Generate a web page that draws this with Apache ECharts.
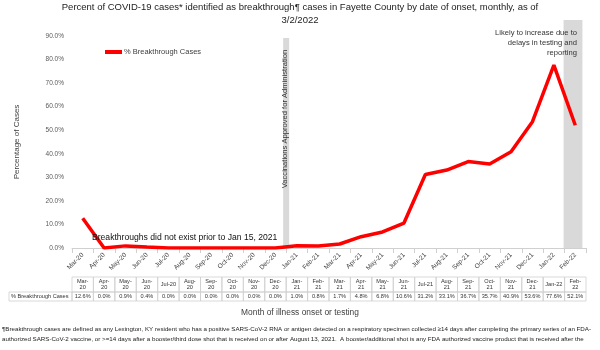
<!DOCTYPE html>
<html><head><meta charset="utf-8">
<script src="https://cdn.jsdelivr.net/npm/echarts@6/dist/echarts.min.js"></script>
<style>html,body{margin:0;padding:0;background:#fff}#c{width:600px;height:350px}</style>
</head><body><div id="c"></div>
<script>
const categories = ['Mar-20','Apr-20','May-20','Jun-20','Jul-20','Aug-20','Sep-20','Oct-20','Nov-20','Dec-20','Jan-21','Feb-21','Mar-21','Apr-21','May-21','Jun-21','Jul-21','Aug-21','Sep-21','Oct-21','Nov-21','Dec-21','Jan-22','Feb-22'];
const breakthrough = [12.6,0.0,0.9,0.4,0.0,0.0,0.0,0.0,0.0,0.0,1.0,0.8,1.7,4.8,6.8,10.6,31.2,33.1,36.7,35.7,40.9,53.6,77.6,52.1];
const yTicks = [0,10,20,30,40,50,60,70,80,90];
const seriesName = '% Breakthrough Cases';
const titleLines = ['Percent of COVID-19 cases* identified as breakthrough¶ cases in Fayette County by date of onset, monthly, as of','3/2/2022'];
const footnote = ['¶Breakthrough cases are defined as any Lexington, KY resident who has a positive SARS-CoV-2 RNA or antigen detected on a respiratory specimen collected ≥14 days after completing the primary series of an FDA-',
'authorized SARS-CoV-2 vaccine, or >=14 days after a booster/third dose shot that is received on or after August 13, 2021.  A booster/additional shot is any FDA authorized vaccine product that is received after the'];

const FONT = 'Liberation Sans';
const chart = echarts.init(document.getElementById('c'), null, {renderer:'canvas'});
const grid = {left:72, right:14, top:36, bottom:102};
chart.setOption({
  animation:false,
  textStyle:{fontFamily:FONT},
  grid: grid,
  legend:{show:true, left:100, top:43, itemWidth:17, itemHeight:4, itemGap:2, icon:'rect',
    textStyle:{fontSize:7.5, color:'#404040', fontFamily:FONT, padding:[0,0,0,-3]}, data:[{name:seriesName, icon:'rect'}]},
  xAxis:{type:'category', data:categories, boundaryGap:true,
    axisLine:{lineStyle:{color:'#d0d0d0'}}, axisTick:{show:true, length:5, lineStyle:{color:'#d0d0d0'}},
    axisLabel:{rotate:45, fontSize:6.5, color:'#404040', margin:6, interval:0}},
  yAxis:{type:'value', min:0, max:90, interval:10, splitLine:{show:false},
    axisLine:{show:false}, axisTick:{show:false},
    axisLabel:{fontSize:6.5, color:'#595959', margin:8, formatter:v=>v.toFixed(1)+'%'}},
  series:[{name:seriesName, type:'line', data:breakthrough, symbol:'none', smooth:false,
    lineStyle:{color:'#ff0000', width:3.5}, itemStyle:{color:'#ff0000'}, z:5}]
});

function px(i){ return chart.convertToPixel({xAxisIndex:0}, categories[i]); }
function py(v){ return chart.convertToPixel({yAxisIndex:0}, v); }
const step = px(1)-px(0);
const g = [];
// title
titleLines.forEach((t,k)=>g.push({type:'text', left:'center', top:2+k*13, style:{text:t, fontSize:9.5, fill:'#222', fontFamily:FONT}}));
// y axis title
g.push({type:'text', x:17, y:(py(0)+py(90))/2, rotation:Math.PI/2, style:{text:'Percentage of Cases', fontSize:8, fill:'#404040', fontFamily:FONT, align:'center', verticalAlign:'middle'}});
// vaccination band between Dec-20 and Jan-21
const vb = (px(9)+px(10))/2;
g.push({type:'rect', shape:{x:vb-3, y:py(89.2), width:6, height:py(0)-py(89.2)}, style:{fill:'#d9d9d9'}, z:1});
g.push({type:'text', x:vb-1, y:119, rotation:Math.PI/2, style:{text:'Vaccinations Approved for Administration', fontSize:7.6, fill:'#333', fontFamily:FONT, align:'center', verticalAlign:'middle'}, z:3});
// reporting delay band
const rb = (px(22)+px(23))/2;
g.push({type:'rect', shape:{x:rb-1, y:20, width:step*0.88, height:py(0)-20}, style:{fill:'#d9d9d9'}, z:1});
['Likely to increase due to','delays in testing and','reporting'].forEach((t,k)=>g.push({type:'text', x:577, y:33+k*10, style:{text:t, fontSize:7.6, fill:'#333', fontFamily:FONT, align:'right', verticalAlign:'middle'}, z:3}));
// annotation
g.push({type:'text', x:92, y:238, style:{text:'Breakthroughs did not exist prior to Jan 15, 2021', fontSize:8.6, fill:'#111', fontFamily:FONT, verticalAlign:'middle'}, z:6});
// data table
const tTop=277, tMid=292, tBot=301, lblLeft=9;
const left0 = px(0)-step/2;
g.push({type:'rect', shape:{x:lblLeft, y:tMid, width:left0-lblLeft, height:tBot-tMid}, style:{fill:'none', stroke:'#cfcfcf', lineWidth:0.8}});
g.push({type:'text', x:lblLeft+2, y:(tMid+tBot)/2, style:{text:seriesName, fontSize:5.6, fill:'#333', fontFamily:FONT, verticalAlign:'middle'}});
categories.forEach((c,i)=>{
  const cx = px(i), x0 = cx-step/2;
  g.push({type:'rect', shape:{x:x0, y:tTop, width:step, height:tMid-tTop}, style:{fill:'none', stroke:'#cfcfcf', lineWidth:0.8}});
  g.push({type:'rect', shape:{x:x0, y:tMid, width:step, height:tBot-tMid}, style:{fill:'none', stroke:'#cfcfcf', lineWidth:0.8}});
  const parts = c.split('-');
  const hdr = (c==='Jul-20'||c==='Jul-21'||c==='Jan-22') ? c : parts[0]+'-\n'+parts[1];
  g.push({type:'text', x:cx, y:(tTop+tMid)/2, style:{text:hdr, fontSize:5.6, lineHeight:6.5, fill:'#333', fontFamily:FONT, align:'center', verticalAlign:'middle'}});
  g.push({type:'text', x:cx, y:(tMid+tBot)/2, style:{text:breakthrough[i].toFixed(1)+'%', fontSize:5.6, fill:'#333', fontFamily:FONT, align:'center', verticalAlign:'middle'}});
});
g.push({type:'text', x:300, y:313, style:{text:'Month of illness onset or testing', fontSize:8.4, fill:'#404040', fontFamily:FONT, align:'center', verticalAlign:'middle'}});
footnote.forEach((t,k)=>g.push({type:'text', x:2, y:329+k*10, style:{text:t, fontSize:6.2, fill:'#222', fontFamily:FONT, verticalAlign:'middle'}}));
chart.setOption({graphic:{elements:g}});
</script></body></html>
